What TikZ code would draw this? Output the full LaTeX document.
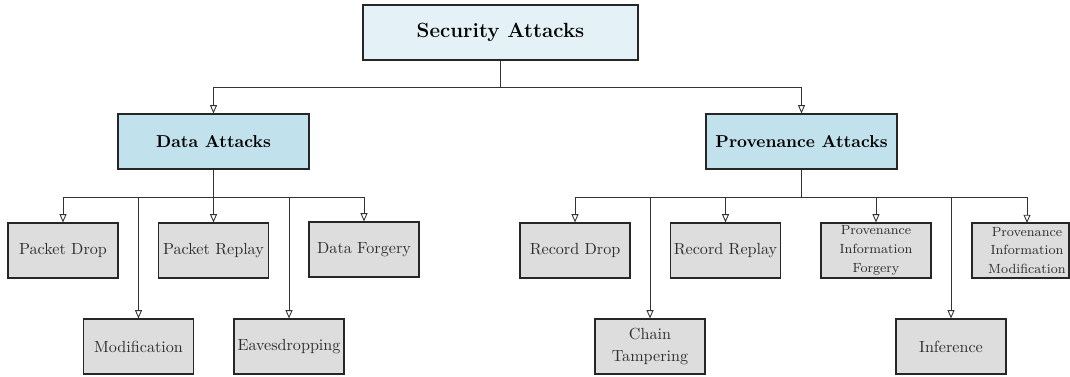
\documentclass[tikz,border=0pt]{standalone}
\usetikzlibrary{arrows.meta}
\definecolor{topfill}{HTML}{E4F2F7}
\definecolor{midfill}{HTML}{C1E1EC}
\definecolor{leaffill}{HTML}{DDDDDD}
\definecolor{linegray}{HTML}{333333}
\definecolor{leaftext}{HTML}{2E2E2E}
\begin{document}
\begin{tikzpicture}[x=0.633pt,y=-0.633pt,
  basebox/.style={draw=black!85, line width=0.75pt, inner sep=0pt, align=center},
  topbox/.style={basebox, fill=topfill, minimum width=174pt, minimum height=34.8pt, font=\fontsize{13}{15}\selectfont\bfseries},
  midbox/.style={basebox, fill=midfill, minimum width=120.9pt, minimum height=34.8pt, font=\fontsize{10.9}{13}\selectfont\bfseries},
  leafbox/.style={basebox, fill=leaffill, text=leaftext, minimum width=69.6pt, minimum height=34.8pt, font=\fontsize{10.2}{14}\selectfont},
  smallleaf/.style={leafbox, font=\fontsize{8.4}{12}\selectfont},
  conn/.style={draw=linegray, line width=0.55pt},
  arr/.style={conn, -{Triangle[open, length=5.2pt, width=4.4pt]}}
]
\useasboundingbox (0,0) rectangle (1070,376);

\node[topbox] (top) at (500.5,32.5) {Security Attacks};
\node[midbox] (data) at (213.5,141.5) {Data Attacks};
\node[midbox] (prov) at (801.5,141.5) {Provenance Attacks};

% data leaves
\node[leafbox] (pd) at (63,250.5) {Packet Drop};
\node[leafbox] (mod) at (138.5,346.5) {Modification};
\node[leafbox] (pr) at (213.5,250.5) {Packet Replay};
\node[leafbox] (eav) at (289,346.5) {Eavesdropping};
\node[leafbox] (df) at (364,249.5) {Data Forgery};

% provenance leaves
\node[leafbox] (rd) at (575,250.5) {Record Drop};
\node[leafbox] (ct) at (650,346.5) {Chain\\Tampering};
\node[leafbox] (rr) at (725.5,250.5) {Record Replay};
\node[smallleaf] (pif) at (876,250.5) {Provenance\\Information\\Forgery};
\node[leafbox] (inf) at (951,346.5) {Inference};
\node[smallleaf, minimum width=61.4pt] (pim) at (1020.5,250.5) {\hspace*{8.2pt}Provenance\\\hspace*{8.2pt}Information\\\hspace*{8.2pt}Modification};

% top level connectors
\coordinate (j1) at (500.5,87);
\draw[conn] (top.south) -- (j1);
\draw[arr] (j1) -| (data.north);
\draw[arr] (j1) -| (prov.north);

% data branch
\coordinate (j2) at (213.5,197);
\draw[conn] (data.south) -- (j2);
\draw[arr] (j2) -| (pd.north);
\draw[arr] (j2) -| (mod.north);
\draw[arr] (j2) -- (pr.north);
\draw[arr] (j2) -| (eav.north);
\draw[arr] (j2) -| (df.north);

% provenance branch
\coordinate (j3) at (801.5,197);
\draw[conn] (prov.south) -- (j3);
\draw[arr] (j3) -| (rd.north);
\draw[arr] (j3) -| (ct.north);
\draw[arr] (j3) -| (rr.north);
\draw[arr] (j3) -| (pif.north);
\draw[arr] (j3) -| (inf.north);
\coordinate (pimtop) at (1027,223);
\draw[arr] (j3) -| (pimtop);
\end{tikzpicture}
\end{document}
